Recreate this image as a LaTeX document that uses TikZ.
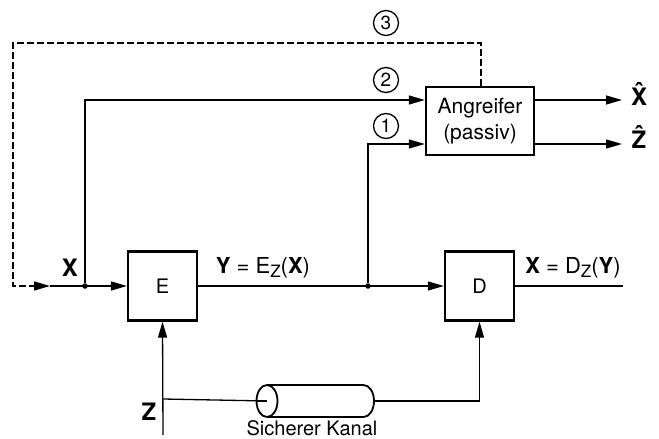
\documentclass[tikz,border=0pt]{standalone}
\usepackage{fontspec}
\setmainfont{TeX Gyre Heros}
\usetikzlibrary{arrows.meta}
\newcommand{\sbz}[1]{\raisebox{-0.35ex}{\fontsize{17}{17}\selectfont #1}}
\newcommand{\hatcap}[1]{\ooalign{#1\cr\hidewidth\raisebox{0.22em}{\char"02C6}\hidewidth\cr}}
\begin{document}
\begin{tikzpicture}[x=1pt,y=-1pt,
  blk/.style={draw,line width=2.3pt,inner sep=0pt,fill=white},
  ln/.style={line width=1.3pt},
  arr/.style={line width=1.3pt,-{Triangle[length=16pt,width=9pt]}},
  dsh/.style={line width=1.3pt,dash pattern=on 7pt off 3pt},
  lbl/.style={font=\fontsize{22}{25}\selectfont,inner sep=0pt},
  blbl/.style={font=\fontsize{24}{25}\selectfont\bfseries,inner sep=0pt},
  num/.style={draw,circle,line width=1.3pt,minimum size=25pt,inner sep=0pt,font=\fontsize{19}{19}\selectfont},
  dotn/.style={circle,fill,inner sep=0pt,minimum size=5.5pt}]
\useasboundingbox (0,0) rectangle (659,439);
% blocks
\node[blk,minimum width=69pt,minimum height=69pt,font=\fontsize{20}{20}\selectfont] (E) at (162.5,286) {E};
\node[blk,minimum width=69pt,minimum height=69pt,font=\fontsize{20}{20}\selectfont] (D) at (479.5,286) {D};
\node[blk,minimum width=108pt,minimum height=68pt,align=center,font=\fontsize{21}{26}\selectfont] (A) at (480,121) {Angreifer\\(passiv)};
% coordinates
\coordinate (xin) at (50,286);
\node[dotn] (d1) at (85,286) {};
\node[dotn] (d2) at (368,286) {};
\coordinate (out) at (623,286);
\coordinate (xh) at (622,100);
\coordinate (zh) at (622,144);
\coordinate (zb) at (163,435);
\coordinate (zj) at (163,399);
\coordinate (cylL) at (267,401);
\coordinate (cylR) at (374,401);
% dashed path 3
\draw[dsh] (A.north -| 481,0) -- (481,43) -- (13,43) -- (13,286) -- (34,286);
\draw[arr] (30,286) -- (xin);
% main line
\draw[arr] (xin) -- (E.west);
\draw[arr] (E.east) -- (D.west);
\draw[ln] (D.east) -- (out);
% taps
\draw[arr] (d1) |- ([yshift=21pt]A.west);
\draw[arr] (d2) |- ([yshift=-23pt]A.west);
% outputs
\draw[arr] ([yshift=21pt]A.east) -- (xh);
\draw[arr] ([yshift=-23pt]A.east) -- (zh);
% key channel
\draw[arr] (zb) -- (E.south);
\draw[ln] (zj) -- (cylL);
\draw[arr] (cylR) -| (D.south);
% cylinder
\draw[line width=1.8pt,fill=white] (267,385) -- (363.5,385) arc (-90:90:10.5 and 16) -- (267,417);
\draw[line width=1.8pt] (cylL) ellipse (10.5 and 16);
\draw[ln] (256,401) -- (cylL);
% labels
\node[num] (n3) at (386,23) {3};
\node[num] (n2) at (386,80) {2};
\node[num] (n1) at (386,126) {1};
\node[blbl] (lx) at (70,268) {X};
\node[lbl] (ly) at (263,268) {\textbf{Y} = E\sbz{Z}(\textbf{X})};
\node[lbl] (lxd) at (573,268) {\textbf{X} = D\sbz{Z}(\textbf{Y})};
\node[blbl] (lxh) at (639,97) {\hatcap{X}};
\node[blbl] (lzh) at (639,140) {\hatcap{Z}};
\node[blbl] (lz) at (149,412) {Z};
\node[lbl,font=\fontsize{20}{20}\selectfont] (lk) at (312,428) {Sicherer Kanal};
\end{tikzpicture}
\end{document}
